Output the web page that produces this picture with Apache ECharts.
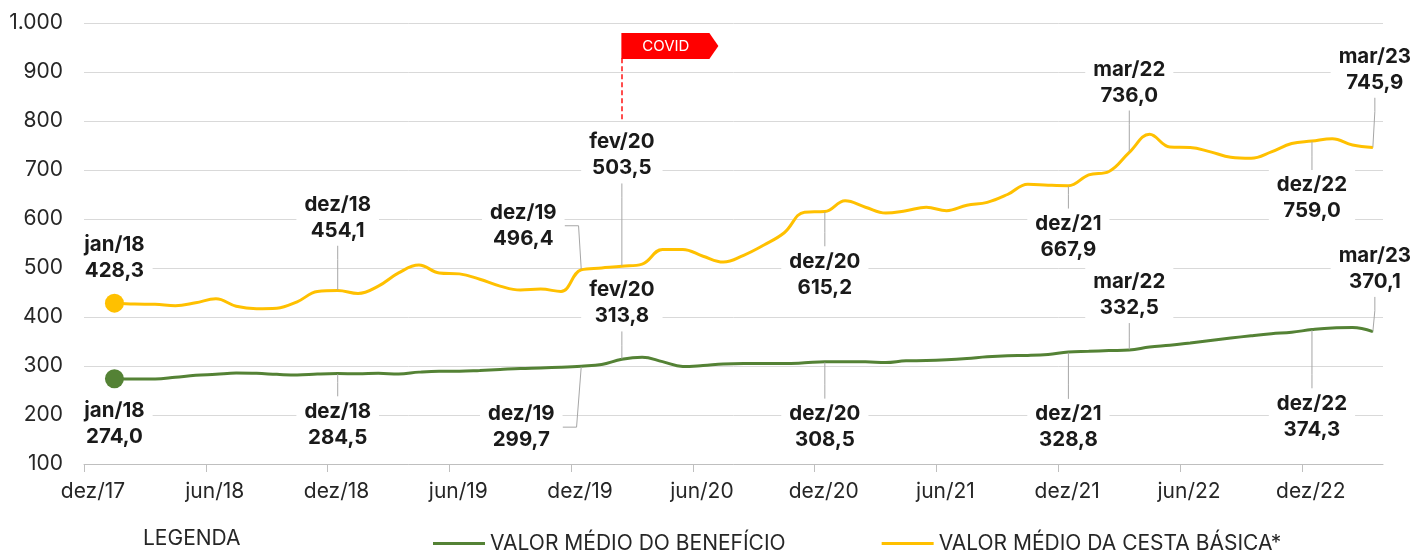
<!DOCTYPE html>
<html>
<head>
<meta charset="utf-8">
<title>Valor médio do benefício x cesta básica</title>
<script src="https://cdn.jsdelivr.net/npm/echarts@6/dist/echarts.min.js"></script>
<style>
  html, body { margin: 0; padding: 0; background: #fff; }
  #chart { width: 1413px; height: 550px; }
</style>
</head>
<body>
<div id="chart"></div>
<script>
// eixo x em meses: 0 = dez/17, marcas a cada 6 meses
const xTickLabels = ['dez/17', 'jun/18', 'dez/18', 'jun/19', 'dez/19', 'jun/20', 'dez/20', 'jun/21', 'dez/21', 'jun/22', 'dez/22']
const firstPoint = 1.5 // jan/18 cai no meio do mês

// valor médio do benefício, jan/18 .. mar/23
const beneficio = [
  274.0, 273.5, 273.5, 277.0, 281.0, 283.0, 285.5, 285.0, 283.0, 281.5, 283.5, 284.5,
  284.0, 285.0, 283.5, 287.5, 289.5, 289.5, 291.0, 293.0, 295.0, 296.0, 297.5, 299.7,
  303.0, 313.8, 318.0, 309.0, 299.0, 301.0, 304.0, 305.0, 305.0, 305.0, 306.4, 308.5,
  308.5, 308.5, 307.0, 310.5, 311.0, 312.7, 315.4, 318.9, 321.0, 321.6, 323.7, 328.8,
  330.0, 331.5, 332.5, 339.0, 342.4, 347.0, 352.0, 357.0, 361.8, 366.0, 369.0, 374.3,
  377.8, 378.5, 370.1
]
// valor médio da cesta básica, jan/18 .. mar/23
const cesta = [
  428.3, 426.5, 426.0, 423.0, 429.0, 437.0, 422.0, 417.0, 418.0, 431.0, 452.0, 454.1,
  448.0, 463.0, 490.0, 506.0, 490.0, 488.0, 477.0, 463.0, 455.0, 457.0, 452.0, 496.4,
  500.0, 503.5, 508.0, 538.0, 538.0, 524.0, 512.0, 526.0, 547.0, 572.0, 614.0, 615.2,
  637.0, 624.0, 612.0, 617.0, 624.0, 617.0, 628.0, 634.0, 650.0, 671.0, 669.0, 667.9,
  690.0, 697.0, 736.0, 773.0, 747.0, 746.0, 737.0, 726.0, 724.0, 737.0, 754.0, 759.0,
  764.0, 751.0, 745.9
]

// meses destacados (índice na série) e seus rótulos
const destaqueIdx = [0, 11, 23, 25, 35, 47, 50, 59, 62]
const destaqueNomes = ['jan/18', 'dez/18', 'dez/19', 'fev/20', 'dez/20', 'dez/21', 'mar/22', 'dez/22', 'mar/23']
const covidIdx = 25

// deslocamento dos rótulos em px [dx, dy, sem linha?]
const offCesta = [[0, -45, 'none'], [0, -73], [-58, -44], [0, -111], [0, 63], [0, 51], [0, -70], [0, 57], [2, -78]]
const offBenef = [[0, 45, 'none'], [0, 51], [-60, 61], [0, -56], [0, 65], [0, 75], [0, -55], [0, 87], [2, -63]]

const fonte = 'Inter'
const corBenef = '#548235'
const corCesta = '#FFC000'

function fmtNum(v) {
  return v.toFixed(1).replace('.', ',')
}

function destaques(nome, valores, offs, cor) {
  return {
    name: nome,
    type: 'scatter',
    z: 5,
    silent: true,
    symbolSize: (val, p) => (p.dataIndex === 0 ? 19 : 1),
    itemStyle: { color: cor, opacity: 1 },
    data: destaqueIdx.map((i, k) => ({
      name: destaqueNomes[k],
      value: [i + firstPoint, valores[i]],
      labelLine: { show: offs[k][2] !== 'none' }
    })),
    label: {
      show: true,
      position: 'inside',
      fontFamily: fonte,
      fontSize: 20.5,
      fontWeight: 'bold',
      lineHeight: 26,
      color: '#1a1a1a',
      backgroundColor: '#fff',
      padding: [2, 8],
      formatter: p => p.name + '\n' + fmtNum(p.value[1])
    },
    labelLine: {
      show: true,
      length2: 14,
      minTurnAngle: 60,
      lineStyle: { color: '#a6a6a6', width: 1 }
    },
    labelLayout: p => {
      const off = offs[p.dataIndex]
      const cx = p.rect.x + p.rect.width / 2
      const cy = p.rect.y + p.rect.height / 2
      return { x: cx + off[0], y: cy + off[1], align: 'center', verticalAlign: 'middle' }
    }
  }
}

const chart = echarts.init(document.getElementById('chart'))

const option = {
  animation: false,
  backgroundColor: '#fff',
  textStyle: { fontFamily: fonte },
  grid: { left: 84, right: 30, top: 23, bottom: 86, outerBoundsMode: 'none' },
  xAxis: {
    type: 'value',
    min: 0,
    max: 64,
    interval: 6,
    splitLine: { show: false },
    axisLine: { show: true, lineStyle: { color: '#bfbfbf', width: 1 } },
    axisTick: {
      show: true,
      length: 8,
      customValues: xTickLabels.map((t, k) => k * 6),
      lineStyle: { color: '#bfbfbf' }
    },
    axisLabel: {
      customValues: xTickLabels.map((t, k) => k * 6),
      margin: 17,
      fontFamily: fonte,
      fontSize: 21,
      color: '#262626',
      padding: [0, 0, 0, 18],
      formatter: v => xTickLabels[Math.round(v / 6)]
    }
  },
  yAxis: {
    type: 'value',
    min: 100,
    max: 1000,
    interval: 100,
    axisLine: { show: false },
    axisTick: { show: false },
    splitLine: { lineStyle: { color: '#d9d9d9', width: 1 } },
    axisLabel: {
      margin: 21,
      fontFamily: fonte,
      fontSize: 21,
      color: '#262626',
      formatter: v => String(v).replace(/\B(?=(\d{3})+(?!\d))/g, '.')
    }
  },
  legend: {
    data: ['VALOR MÉDIO DO BENEFÍCIO', 'VALOR MÉDIO DA CESTA BÁSICA*'],
    left: 428,
    top: 528,
    icon: 'rect',
    itemWidth: 52,
    itemHeight: 3,
    itemGap: 96,
    selectedMode: false,
    textStyle: { fontFamily: fonte, fontSize: 21, color: '#262626' }
  },
  graphic: [{
    type: 'text',
    left: 143,
    top: 528,
    style: { text: 'LEGENDA', font: '21px Inter', fill: '#262626' }
  }],
  series: [
    {
      name: 'VALOR MÉDIO DO BENEFÍCIO',
      type: 'line',
      smooth: 0.4,
      showSymbol: false,
      silent: true,
      data: beneficio.map((v, i) => [i + firstPoint, v]),
      lineStyle: { width: 3, color: corBenef },
      itemStyle: { color: corBenef }
    },
    {
      name: 'VALOR MÉDIO DA CESTA BÁSICA*',
      type: 'line',
      smooth: 0.4,
      showSymbol: false,
      silent: true,
      data: cesta.map((v, i) => [i + firstPoint, v]),
      lineStyle: { width: 3, color: corCesta },
      itemStyle: { color: corCesta },
      markLine: {
        silent: true,
        symbol: 'none',
        label: { show: false },
        lineStyle: { color: '#ff4d4d', type: [5, 3], width: 2 },
        data: [[
          { coord: [covidIdx + firstPoint, 928] },
          { coord: [covidIdx + firstPoint, 800] }
        ]]
      },
      markPoint: {
        silent: true,
        data: [{
          coord: [covidIdx + firstPoint, 953],
          symbol: 'path://M0,0 L88,0 L97,13 L88,26 L0,26 Z',
          symbolSize: [97, 26],
          symbolOffset: [48, 0],
          itemStyle: { color: '#ff0000' },
          label: {
            show: true,
            position: 'inside',
            offset: [-4, 0],
            formatter: 'COVID',
            fontFamily: fonte,
            fontSize: 15,
            color: '#fff'
          }
        }]
      }
    },
    destaques('destaque-beneficio', beneficio, offBenef, corBenef),
    destaques('destaque-cesta', cesta, offCesta, corCesta)
  ]
}

chart.setOption(option)
</script>
</body>
</html>
